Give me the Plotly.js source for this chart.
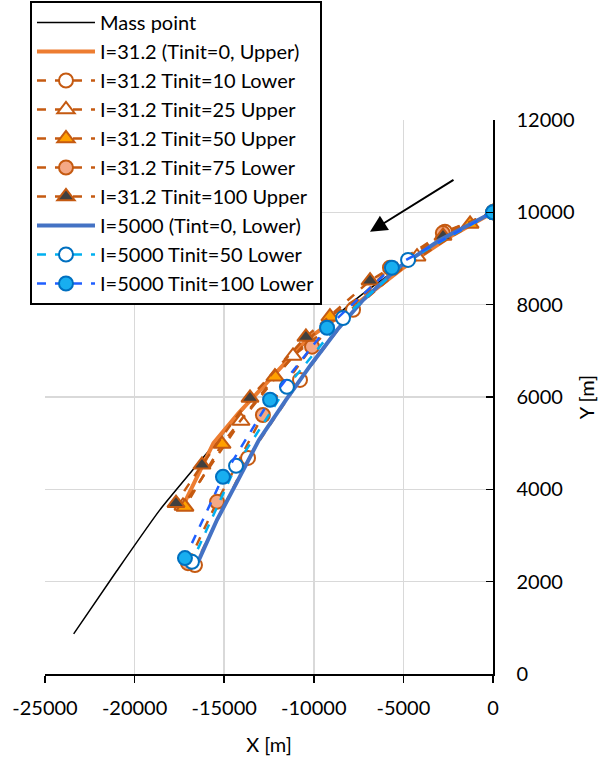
<!DOCTYPE html>
<html>
<head>
<meta charset="utf-8">
<script src="https://cdn.plot.ly/plotly-3.0.1.min.js"></script>
<style>
  html, body { margin: 0; padding: 0; background: #ffffff; }
  #chart { width: 614px; height: 760px; }
</style>
</head>
<body>
<div id="chart"></div>
<script>
// Mass point trajectory
const massX = [0, -2500, -5000, -7500, -10000, -12550, -15500, -18600, -21000, -23400];
const massY = [10000, 9465, 8865, 8165, 7340, 6370, 5000, 3550, 2230, 870];

// I=31.2, Tinit=0 (upper branch)
const i31t0X = [0, -2500, -5000, -7500, -10400, -12500, -14200, -15600, -17300];
const i31t0Y = [10000, 9450, 8800, 8050, 7240, 6350, 5650, 5000, 3640];

// I=31.2, Tinit=10 (lower)
const i31t10X = [0, -2680, -7810, -10770, -13670, -16630];
const i31t10Y = [10000, 9580, 7890, 6370, 4680, 2360];

// I=31.2, Tinit=25 (upper)
const i31t25X = [0, -4240, -11160, -14060, -17300];
const i31t25Y = [10000, 9040, 6890, 5480, 3640];

// I=31.2, Tinit=50 (upper)
const i31t50X = [0, -1280, -9100, -12170, -15120, -17190];
const i31t50Y = [10000, 9750, 7740, 6440, 4980, 3620];

// I=31.2, Tinit=75 (lower)
const i31t75X = [0, -2800, -5750, -10100, -12840, -15400, -17020];
const i31t75Y = [10000, 9550, 8800, 7090, 5610, 3730, 2400];

// I=31.2, Tinit=100 (upper)
const i31t100X = [0, -2790, -6860, -10440, -13560, -16240, -17690];
const i31t100Y = [10000, 9490, 8520, 7300, 5980, 4530, 3700];

// I=5000, Tint=0 (lower)
const i5kt0X = [0, -2960, -5300, -7250, -8700, -10160, -11550, -13060, -14230, -15400, -16460];
const i5kt0Y = [10000, 9400, 8800, 8100, 7450, 6700, 5940, 5070, 4200, 3340, 2430];

// I=5000, Tinit=50 (lower)
const i5kt50X = [0, -4740, -8370, -11500, -14340, -16800];
const i5kt50Y = [10000, 8970, 7710, 6220, 4510, 2430];

// I=5000, Tinit=100 (lower)
const i5kt100X = [0, -5640, -9260, -12440, -15070, -17190];
const i5kt100Y = [10000, 8800, 7500, 5940, 4270, 2510];

const xTicks = [-25000, -20000, -15000, -10000, -5000, 0];
const yTicks = [0, 2000, 4000, 6000, 8000, 10000, 12000];

const ORANGE = '#ed7d31';
const DARK_ORANGE = '#c55a11';
const FONT = 'Lato, "Open Sans", sans-serif';

function markerSeries(name, x, y, lineColor, symbol, fill, border, size) {
  return {
    type: 'scatter', mode: 'lines+markers', name: name, x: x, y: y,
    line: { color: lineColor, width: 2.5, dash: 'dash' },
    marker: { symbol: symbol, size: size, color: fill, line: { color: border, width: 2 } }
  };
}

const traces = [
  { type: 'scatter', mode: 'lines', name: 'Mass point', x: massX, y: massY,
    line: { color: '#000000', width: 1.5, shape: 'spline', smoothing: 0.5 } },
  { type: 'scatter', mode: 'lines', name: 'I=31.2 (Tinit=0, Upper)', x: i31t0X, y: i31t0Y,
    line: { color: ORANGE, width: 4 } },
  markerSeries('I=31.2 Tinit=10 Lower', i31t10X, i31t10Y, DARK_ORANGE, 'circle', '#ffffff', DARK_ORANGE, 14),
  markerSeries('I=31.2 Tinit=25 Upper', i31t25X, i31t25Y, DARK_ORANGE, 'triangle-up', '#ffffff', DARK_ORANGE, 15),
  markerSeries('I=31.2 Tinit=50 Upper', i31t50X, i31t50Y, DARK_ORANGE, 'triangle-up', '#ffa000', DARK_ORANGE, 15),
  markerSeries('I=31.2 Tinit=75 Lower', i31t75X, i31t75Y, DARK_ORANGE, 'circle', '#f4a885', DARK_ORANGE, 14),
  markerSeries('I=31.2 Tinit=100 Upper', i31t100X, i31t100Y, DARK_ORANGE, 'triangle-up', '#404040', DARK_ORANGE, 15),
  { type: 'scatter', mode: 'lines', name: 'I=5000 (Tint=0, Lower)', x: i5kt0X, y: i5kt0Y,
    line: { color: '#4472c4', width: 4 } },
  markerSeries('I=5000 Tinit=50 Lower', i5kt50X, i5kt50Y, '#00b0f0', 'circle', '#ffffff', '#0070c0', 14),
  markerSeries('I=5000 Tinit=100 Lower', i5kt100X, i5kt100Y, '#1f5fff', 'circle', '#18aef0', '#0070c0', 14)
];

const layout = {
  width: 614, height: 760,
  margin: { l: 45, r: 121, t: 120, b: 86, autoexpand: false },
  paper_bgcolor: '#ffffff', plot_bgcolor: '#ffffff',
  font: { family: FONT, size: 20, color: '#000000' },
  showlegend: true,
  legend: {
    x: -0.0335, y: 1.2148, xanchor: 'left', yanchor: 'top',
    bgcolor: '#ffffff', bordercolor: '#000000', borderwidth: 2,
    font: { family: FONT, size: 20, color: '#000000' },
    itemwidth: 58, tracegroupgap: 0
  },
  xaxis: {
    range: [-25000, 0], tickvals: xTicks, ticktext: xTicks.map(String),
    showgrid: true, gridcolor: '#d9d9d9', gridwidth: 1.5,
    zeroline: false, showline: true, linecolor: '#000000', linewidth: 1.5,
    ticks: 'outside', ticklen: 7, tickwidth: 1.5, tickcolor: '#000000',
    tickfont: { family: FONT, size: 20 }, ticklabelstandoff: 8,
    title: { text: 'X [m]', font: { family: FONT, size: 20 }, standoff: 20 }
  },
  xaxis2: {
    overlaying: 'x', anchor: 'y', side: 'bottom', range: [-25000, 0], tickvals: xTicks,
    showticklabels: false, showgrid: false, zeroline: false, showline: false,
    ticks: 'inside', ticklen: 7, tickwidth: 1.5, tickcolor: '#000000'
  },
  yaxis: {
    range: [0, 12000], tickvals: yTicks, ticktext: yTicks.map(String), side: 'right',
    showgrid: true, gridcolor: '#d9d9d9', gridwidth: 1.5,
    zeroline: false, showline: true, linecolor: '#000000', linewidth: 1.5,
    ticks: 'inside', ticklen: 7, tickwidth: 1.5, tickcolor: '#000000',
    tickfont: { family: FONT, size: 20 }, ticklabelstandoff: 18,
    title: { text: 'Y [m]', font: { family: FONT, size: 20 }, standoff: 6 }
  },
  annotations: [{
    x: -6864, y: 9577, xref: 'x', yref: 'y', ax: 85, ay: -53,
    showarrow: true, arrowhead: 2, arrowsize: 1.7, arrowwidth: 2, arrowcolor: '#000000',
    text: ''
  }]
};

Plotly.newPlot('chart', traces, layout, { displayModeBar: false, staticPlot: true });
</script>
</body>
</html>
